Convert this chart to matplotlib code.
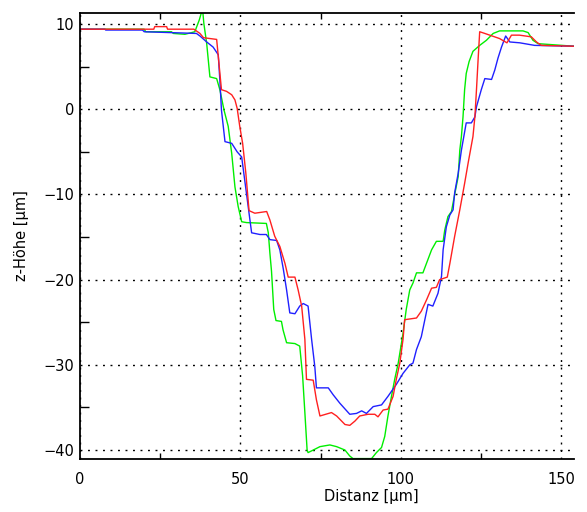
import matplotlib
matplotlib.use('Agg')
import matplotlib.pyplot as plt
from matplotlib.ticker import MultipleLocator

# Profile traces: distance (um) vs. height (um)
red_x = [0, 23, 23.3, 27, 27.3, 35.5, 37.4, 38.5, 42.6, 44.1, 45.7, 47.3, 48.3, 49.0,
         49.8, 50.7, 51.7, 52.4, 52.7, 54.5, 58.2, 59.2, 60.7, 62.3, 63.9, 64.9, 67.0,
         68.0, 69.1, 70.1, 70.6, 72.7, 73.7, 74.8, 78.4, 80.0, 82.6, 84.1, 85.7, 87.2,
         89.8, 91.9, 92.9, 94.5, 96.0, 97.6, 98.6, 99.7, 100.7, 101.2, 104.9, 106.4,
         108.0, 109.6, 111.1, 112.1, 114.5, 115.3, 116.8, 118.4, 119.9, 121.0, 122.5,
         123.1, 123.6, 124.1, 124.6, 126.2, 130.8, 133.1, 134.5, 137.0, 140.7, 142.3,
         143.8, 154]
red_y = [9.4, 9.4, 9.7, 9.7, 9.4, 9.4, 8.9, 8.4, 8.2, 2.3, 2.1, 1.7, 1.1, 0.1,
         -2.0, -4.0, -7.5, -10.6, -11.9, -12.2, -12.0, -13.0, -14.9, -16.1, -18.1, -19.7, -19.7,
         -21.2, -23.1, -27.0, -31.7, -31.8, -34.1, -36.0, -35.6, -36.0, -37.0, -37.1, -36.6, -36.0,
         -35.8, -35.8, -36.1, -35.3, -35.2, -33.7, -31.7, -29.8, -27.0, -24.7, -24.5, -23.7,
         -22.4, -21.0, -20.9, -20.0, -19.7, -18.1, -14.9, -11.8, -8.7, -6.3, -3.2,
         -0.9, 2.3, 5.8, 9.1, 8.9, 8.3, 7.8, 8.7, 8.7, 8.5, 7.9,
         7.5, 7.4]

blue_x = [0, 7.8, 8.0, 19.5, 20, 36.3, 37.4, 39.5, 41.5, 43.1, 43.6, 44.1, 45.2, 47.3,
          49.0, 50.4, 51.9, 52.7, 53.5, 56.1, 58.1, 59.2, 61.3, 62.3, 63.4, 64.4, 65.4,
          67.0, 68.5, 69.6, 71.1, 72.2, 73.2, 73.7, 77.4, 78.9, 81.0, 84.1, 86.2, 87.8,
          89.3, 91.4, 94.0, 96.0, 98.6, 100.7, 102.8, 103.8, 104.9, 106.4, 107.5, 108.5,
          110.0, 111.6, 112.7, 113.2, 114.2, 115.3, 116.3, 116.8, 117.9, 118.9, 120.4,
          122.0, 123.1, 123.6, 125.1, 126.2, 128.3, 129.3, 130.3, 131.4, 132.7, 134.0,
          137.1, 141.7, 154]
blue_y = [9.4, 9.4, 9.3, 9.3, 9.1, 8.9, 8.6, 7.9, 7.3, 6.4, 3.4, -0.1, -3.8, -4.0,
          -5.0, -5.6, -9.9, -12.2, -14.5, -14.7, -14.7, -15.3, -15.4, -16.5, -18.8, -21.2, -23.9,
          -24.0, -23.1, -22.8, -23.1, -27.0, -30.2, -32.7, -32.7, -33.5, -34.5, -35.8, -35.7, -35.4,
          -35.7, -34.9, -34.7, -33.7, -32.3, -31.0, -30.0, -29.8, -28.2, -26.7, -24.7, -22.9,
          -23.1, -21.6, -19.6, -16.5, -13.8, -12.4, -11.8, -9.8, -7.5, -4.8, -1.6,
          -1.6, -0.9, 0.3, 2.3, 3.6, 3.5, 4.6, 6.0, 7.3, 8.6, 7.9,
          7.8, 7.5, 7.4]

green_x = [0, 20, 20.5, 28.5, 29.1, 32.7, 35.8, 37.2, 38.2, 38.6, 39.5, 40.5, 42.6, 43.6,
           44.9, 46.2, 47.3, 48.3, 49.3, 50.4, 51.9, 58.1, 58.7, 59.2, 59.7, 60.4, 61.1,
           62.8, 63.3, 64.4, 67.0, 68.5, 69.4, 70.1, 70.8, 71.1, 72.7, 74.8, 77.9, 80.0,
           82.6, 84.1, 85.1, 90.9, 92.4, 94.0, 95.0, 96.0, 97.1, 98.1, 99.2, 100.7, 101.7,
           102.8, 103.8, 104.9, 106.9, 108.0, 109.6, 111.1, 113.2, 113.7, 114.7, 115.8,
           116.8, 117.9, 118.4, 118.9, 119.4, 119.9, 120.4, 121.3, 122.5, 124.6, 126.7,
           128.8, 130.8, 138.1, 139.7, 141.2, 142.8, 154]
green_y = [9.4, 9.4, 9.1, 9.1, 8.9, 8.8, 9.1, 10.5, 11.8, 10.1, 7.7, 3.8, 3.6, 2.3,
           -0.1, -2.0, -5.2, -9.1, -11.4, -13.2, -13.3, -13.4, -14.5, -16.9, -19.0, -23.5, -24.8,
           -24.9, -25.9, -27.4, -27.5, -27.8, -31.3, -35.6, -40.0, -40.3, -40.0, -39.6, -39.4, -39.6,
           -40.0, -40.7, -41.0, -41.0, -40.3, -39.7, -38.4, -36.0, -33.7, -31.7, -29.8, -26.3, -23.5,
           -21.2, -20.4, -19.2, -19.2, -18.1, -16.5, -15.5, -15.5, -14.2, -12.6, -12.0,
           -10.0, -7.9, -4.8, -3.2, -0.9, 2.3, 4.2, 5.6, 6.8, 7.5, 8.1,
           8.9, 9.2, 9.2, 9.0, 8.1, 7.7, 7.4]

plt.rcParams['font.family'] = 'DejaVu Sans'

fig = plt.figure(figsize=(5.87, 5.12), dpi=100)
ax = fig.add_axes([80/587., 1 - 459/512., (574 - 80)/587., (459 - 13)/512.])

ax.plot(green_x, green_y, '-', color='#00ee00', lw=1.0)
ax.plot(blue_x, blue_y, '-', color='#2020ff', lw=1.0)
ax.plot(red_x, red_y, '-', color='#ff2020', lw=1.0)

ax.set_xlim([0, 154])
ax.set_ylim([-41.05, 11.3])

ax.xaxis.set_major_locator(MultipleLocator(50))
ax.xaxis.set_minor_locator(MultipleLocator(25))
ax.yaxis.set_major_locator(MultipleLocator(10))
ax.yaxis.set_minor_locator(MultipleLocator(5))

ax.grid(True, which='major', color='black', linestyle=(0, (1.4, 4.0)), lw=1.0)

ax.tick_params(axis='both', which='major', length=0, labelsize=10.5)
ax.tick_params(axis='x', which='major', pad=9)
ax.tick_params(axis='y', which='major', pad=4)
ax.tick_params(axis='x', which='minor', direction='in', length=4.5, width=1.0,
               top=True, bottom=True)
ax.tick_params(axis='y', which='minor', direction='in', length=6.5, width=1.0,
               left=True, right=False)

ax.spines['right'].set_visible(False)
for side in ['left', 'top', 'bottom']:
    ax.spines[side].set_linewidth(1.3)

ax.set_xlabel('Distanz [µm]', fontsize=10.5, va='center')
ax.xaxis.set_label_coords((371 - 80)/494., -38/446.)
ax.set_ylabel('z-Höhe [µm]', fontsize=10.5, va='center')
ax.yaxis.set_label_coords((22 - 80)/494., 0.5)

plt.savefig('out.png', dpi=100)
